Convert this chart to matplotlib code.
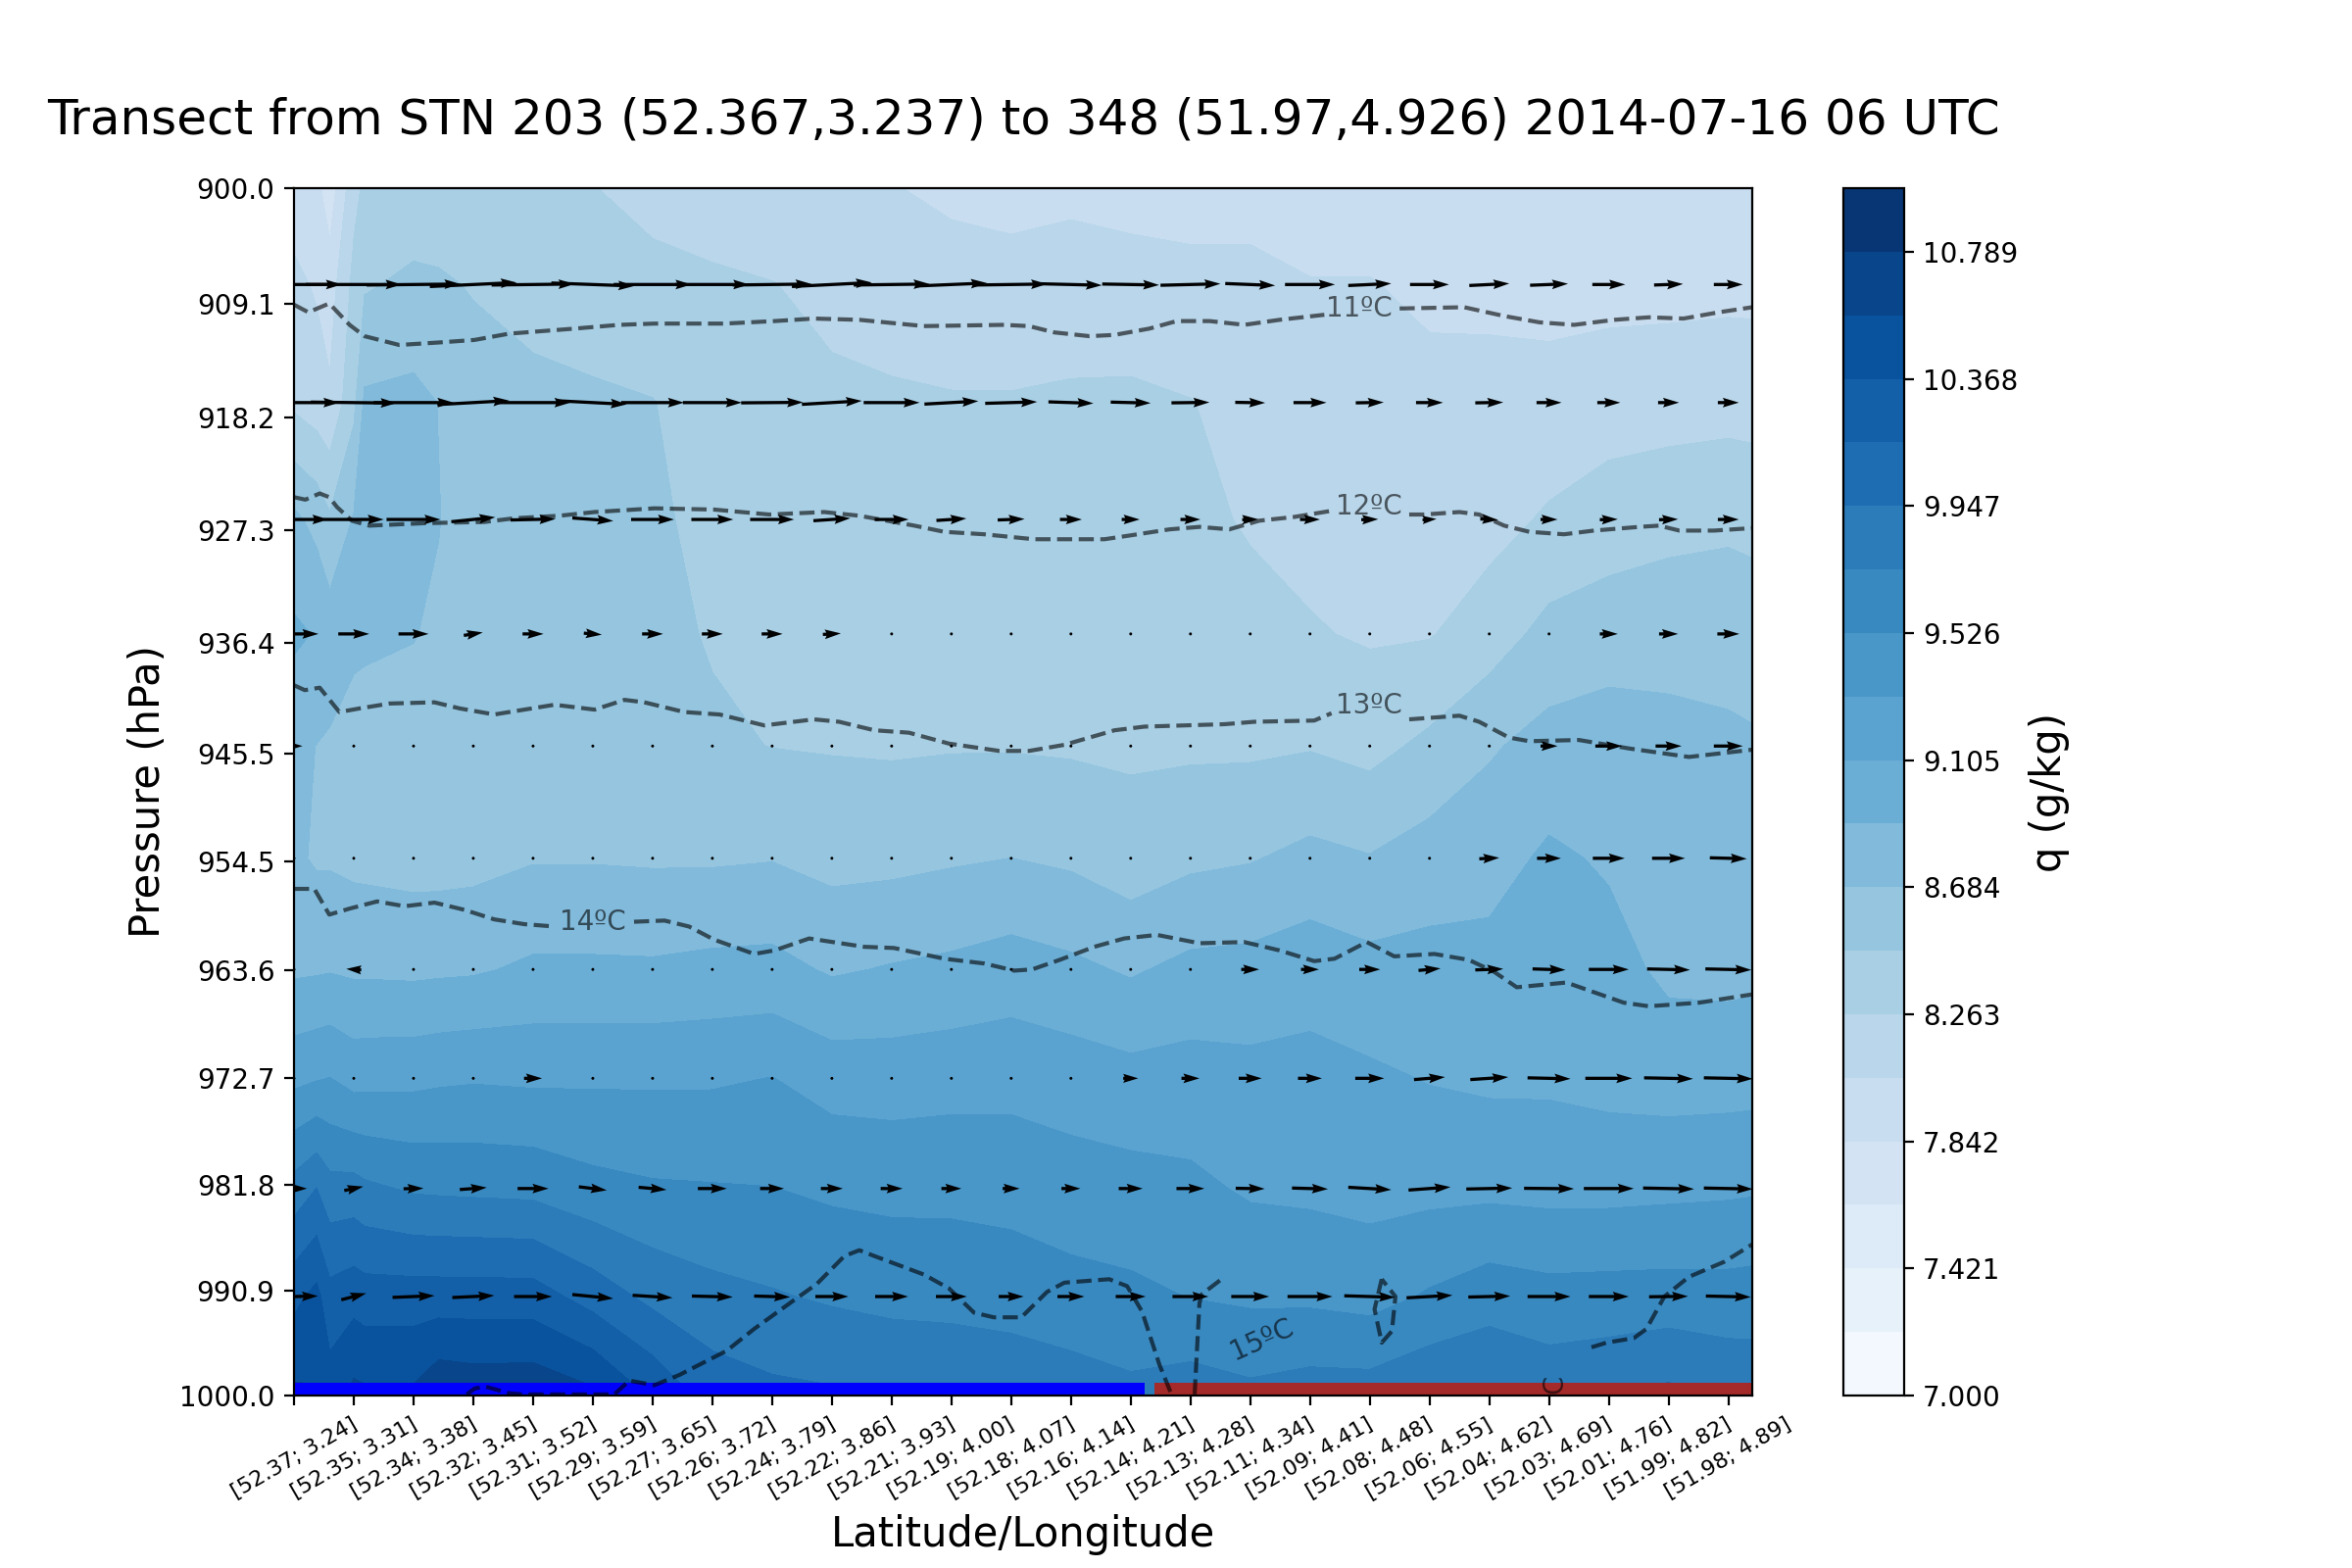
"""Transect of specific humidity, wind and temperature, STN 203 to 348."""

import numpy as np
import matplotlib
matplotlib.use("Agg")
import matplotlib.pyplot as plt

# -- humidity field, one list per pressure level ------------------------------
q_x = [0, 0.38, 0.6, 1, 1.18, 2, 2.42, 3, 4, 5, 6, 7, 8, 9, 10, 11, 12, 13, 14, 15, 16, 17,
       18, 19, 20, 21, 22, 23, 24, 24.4]
q_p = [900, 907.6, 917, 926.4, 935.7, 944.9, 954.2, 963.5, 972.7, 982.1, 991.4, 1000]

q_900 = [7.95, 7.90, 7.72, 8.20, 8.30, 8.33, 8.35, 8.37, 8.33, 8.27, 8.19, 8.14, 8.09, 8.07, 8.06, 8.02,
         8.00, 8.02, 8.01, 8.00, 8.00, 7.97, 7.97, 7.93, 7.92, 7.90, 7.90, 7.90, 7.92, 7.95]
q_908 = [8.10, 8.03, 7.95, 8.32, 8.45, 8.52, 8.50, 8.46, 8.41, 8.38, 8.33, 8.30, 8.27, 8.20, 8.17, 8.12,
         8.11, 8.12, 8.10, 8.09, 8.09, 8.06, 8.06, 8.02, 8.01, 7.99, 7.99, 7.99, 8.00, 8.00]
q_917 = [8.22, 8.15, 8.09, 8.42, 8.72, 8.74, 8.68, 8.56, 8.52, 8.50, 8.48, 8.38, 8.33, 8.31, 8.29, 8.28,
         8.28, 8.30, 8.31, 8.27, 8.19, 8.14, 8.12, 8.10, 8.11, 8.12, 8.16, 8.18, 8.19, 8.18]
q_926 = [8.73, 8.62, 8.50, 8.70, 8.76, 8.76, 8.69, 8.60, 8.57, 8.56, 8.50, 8.43, 8.39, 8.37, 8.35, 8.35,
         8.35, 8.36, 8.36, 8.32, 8.24, 8.20, 8.18, 8.16, 8.19, 8.29, 8.37, 8.40, 8.43, 8.42]
q_936 = [8.93, 8.88, 8.80, 8.72, 8.71, 8.69, 8.66, 8.60, 8.60, 8.60, 8.52, 8.46, 8.43, 8.43, 8.41, 8.41,
         8.41, 8.41, 8.40, 8.38, 8.34, 8.28, 8.24, 8.25, 8.37, 8.54, 8.58, 8.62, 8.61, 8.58]
q_945 = [8.74, 8.68, 8.66, 8.62, 8.62, 8.62, 8.62, 8.62, 8.62, 8.62, 8.62, 8.50, 8.47, 8.46, 8.45, 8.46,
         8.46, 8.45, 8.44, 8.44, 8.44, 8.46, 8.41, 8.52, 8.66, 8.76, 8.80, 8.74, 8.72, 8.71]
q_954 = [8.72, 8.66, 8.66, 8.635, 8.63, 8.61, 8.61, 8.62, 8.67, 8.67, 8.66, 8.66, 8.675, 8.62, 8.63, 8.66,
         8.685, 8.65, 8.57, 8.64, 8.67, 8.74, 8.695, 8.776, 8.815, 8.93, 8.87, 8.79, 8.76, 8.79]
q_964 = [8.86, 8.87, 8.88, 8.86, 8.86, 8.85, 8.86, 8.87, 8.93, 8.93, 8.925, 8.95, 8.96, 8.87, 8.91, 8.94,
         8.99, 8.94, 8.87, 8.95, 8.965, 9.02, 8.96, 8.97, 8.965, 8.99, 8.97, 8.85, 8.84, 8.85]
q_973 = [9.26, 9.30, 9.32, 9.24, 9.25, 9.26, 9.28, 9.295, 9.28, 9.286, 9.287, 9.29, 9.32, 9.23, 9.22, 9.24,
         9.25, 9.215, 9.175, 9.19, 9.166, 9.17, 9.14, 9.095, 9.07, 9.07, 9.04, 9.02, 9.025, 9.03]
q_982 = [9.82, 9.95, 9.815, 9.82, 9.78, 9.71, 9.70, 9.69, 9.675, 9.59, 9.55, 9.54, 9.53, 9.49, 9.47, 9.47,
         9.45, 9.41, 9.39, 9.36, 9.29, 9.275, 9.25, 9.258, 9.263, 9.25, 9.25, 9.265, 9.28, 9.29]
q_991 = [10.31, 10.43, 10.23, 10.29, 10.26, 10.26, 10.26, 10.26, 10.255, 10.07, 9.89, 9.80, 9.755, 9.71, 9.68, 9.67,
         9.65, 9.60, 9.57, 9.52, 9.49, 9.485, 9.45, 9.55, 9.645, 9.60, 9.61, 9.615, 9.61, 9.62]
q_1000 = [10.62, 10.60, 10.48, 10.64, 10.62, 10.62, 10.76, 10.73, 10.74, 10.63, 10.34, 10.07, 10.00, 9.975, 9.93, 9.915,
          9.885, 9.85, 9.79, 9.85, 9.79, 9.84, 9.84, 9.93, 9.95, 9.88, 9.92, 10.00, 9.91, 9.89]

# -- wind, one row per level, at the ticks ------------------------------------
wind_p = [907.6, 917, 926.4, 935.7, 944.9, 954.2, 963.5, 972.7, 982.1, 991.4]

u_908 = [9.6, 9.6, 9.4, 8.7, 8.3, 8.3, 7.8, 7.4, 7.9, 8.0, 7.6, 7.1, 7.2, 6.2, 5.7, 6.0, 5.0, 5.0, 4.3, 3.9, 4.0, 3.8, 3.3, 2.9, 2.9]
u_917 = [9.1, 8.6, 8.0, 7.2, 7.5, 6.8, 6.3, 5.9, 6.2, 6.0, 5.6, 5.4, 5.2, 4.5, 4.0, 3.8, 3.0, 3.3, 2.8, 2.7, 2.8, 2.5, 2.3, 2.1, 2.1]
u_926 = [6.9, 6.0, 5.4, 4.4, 4.5, 4.1, 4.3, 4.2, 4.4, 3.7, 3.4, 3.0, 2.7, 2.2, 1.8, 2.0, 1.6, 2.0, 1.7, 1.4, 1.8, 1.7, 1.8, 1.9, 2.1]
u_936 = [4.9, 3.1, 3.0, 1.9, 2.1, 1.8, 2.1, 2.1, 2.1, 1.8, 0, 0, 0, 0, 0, 0, 0, 0, 0, 0, 0, 0, 1.8, 1.9, 2.2]
u_945 = [1.7, 0, 0, 0, 0, 0, 0, 0, 0, 0, 0, 0, 0, 0, 0, 0, 0, 0, 0, 0, 0, 1.7, 2.7, 2.6, 2.9]
u_954 = [0, 0, 0, 0, 0, 0, 0, 0, 0, 0, 0, 0, 0, 0, 0, 0, 0, 0, 0, 0, 2.0, 2.4, 3.2, 3.3, 3.7]
u_964 = [0, -1.5, 0, 0, 0, 0, 0, 0, 0, 0, 0, 0, 0, 0, 0, 0, 1.8, 1.8, 2.1, 2.2, 2.8, 3.3, 4.0, 4.3, 4.6]
u_973 = [0, 0, 0, 0, 1.8, 0, 0, 0, 0, 0, 0, 0, 0, 0, 1.5, 1.8, 2.3, 2.4, 2.9, 3.1, 3.8, 4.3, 4.7, 4.9, 4.9]
u_982 = [2.6, 1.9, 2.0, 2.7, 3.1, 2.8, 2.8, 2.9, 2.4, 2.2, 2.2, 2.0, 1.7, 1.9, 2.4, 2.8, 2.9, 3.6, 4.3, 4.2, 4.6, 5.0, 5.0, 5.1, 4.9]
u_991 = [4.8, 2.5, 4.2, 4.2, 3.8, 4.1, 4.0, 4.1, 3.6, 3.3, 3.3, 3.1, 2.5, 2.7, 3.0, 3.6, 3.8, 4.5, 5.1, 4.6, 4.2, 4.3, 4.0, 3.9, 4.5]

v_908 = [0, 0, 0.1, 0.4, 0.1, -0.3, 0, 0, 0.1, 0.4, 0.1, 0.3, 0.1, -0.15, -0.1, 0.15, -0.2, 0, 0.2, 0, 0.2, 0.15, 0, 0.1, 0]
v_917 = [0, -0.1, 0, 0.4, 0, -0.35, 0, 0, 0.05, 0.35, 0, 0.3, 0.15, -0.15, -0.1, 0.05, -0.05, 0, 0.05, 0, 0.05, 0, 0, 0, 0]
v_926 = [0, 0, 0, 0.45, 0.1, -0.3, 0, 0, 0, 0.25, 0, 0.2, 0.1, 0, 0, 0, 0.05, 0, 0.05, 0.1, -0.1, 0, 0.05, 0.05, 0]
v_936 = [0, 0, 0, 0.3, 0, -0.15, 0, 0, 0, 0.1, 0, 0, 0, 0, 0, 0, 0, 0, 0, 0, 0, 0, 0, 0, 0]
v_945 = [0] * 25
v_954 = [0, 0, 0, 0, 0, 0, 0, 0, 0, 0, 0, 0, 0, 0, 0, 0, 0, 0, 0, 0, 0.1, 0, 0, 0, -0.1]
v_964 = [0, 0.1, 0, 0, 0, 0, 0, 0, 0, 0, 0, 0, 0, 0, 0, 0, 0, 0, 0, 0.2, 0.1, -0.1, 0, -0.1, -0.1]
v_973 = [0, 0, 0, 0, 0, 0, 0, 0, 0, 0, 0, 0, 0, 0, 0, 0, 0, 0, 0, 0.25, 0.25, -0.1, 0, -0.1, -0.1]
v_982 = [0, 0.4, 0.05, 0.2, 0, -0.35, -0.25, 0, 0, 0, 0, 0, 0, 0, 0, 0, -0.05, -0.1, -0.25, 0.3, 0.1, -0.05, 0, -0.1, -0.1]
v_991 = [0.1, 0.65, 0.17, 0.2, 0, -0.4, -0.25, -0.1, -0.1, 0, 0, 0, 0, 0, 0, 0, 0, 0, -0.15, 0.25, 0.1, 0, 0, 0.05, -0.1]

# -- isotherms, nan where the label breaks the line ---------------------------
t11_x = [0, 0.24, 0.59, 0.93, 1.18, 1.76, 2.43, 3.02, 3.6, 4.69, 5.44, 6.03, 7.2, 8.04, 8.7, 9.46, 10.54, 11.88, 12.3,
         12.72, 13.31, 13.73, 14.31, 14.77, 15.32, 15.9, 16.49, 17.24, 17.3, 18.4, 18.5, 19.58, 20.25, 20.84, 21.42,
         22.09, 22.67, 23.25, 23.84, 24.4]
t11_p = [909.2, 909.8, 909.1, 910.8, 911.7, 912.4, 912.2, 912.0, 911.5, 911.1, 910.8, 910.7, 910.7, 910.5, 910.3, 910.4,
         910.9, 910.8, 910.9, 911.4, 911.7, 911.6, 911.1, 910.5, 910.5, 910.8, 910.4, 910.0, np.nan, np.nan, 909.5, 909.4,
         910.1, 910.6, 910.8, 910.4, 910.2, 910.3, 909.8, 909.4]

t12_x = [0, 0.19, 0.43, 0.59, 0.72, 0.97, 1.26, 2.18, 3.19, 3.69, 4.44, 5.03, 6.03, 7.03, 7.95, 8.87, 9.46, 10.38, 10.88,
         11.55, 12.38, 13.56, 13.98, 14.65, 15.15, 15.65, 16.15, 16.73, 17.36, 17.4, 18.6, 18.66, 18.91, 19.5, 19.83,
         20.25, 20.67, 21.25, 21.75, 22.51, 22.84, 23.18, 23.76, 24.4]
t12_p = [924.6, 924.8, 924.3, 924.6, 925.4, 926.5, 926.9, 926.7, 926.6, 926.3, 926.1, 925.8, 925.5, 925.6, 926.0, 925.8,
         926.1, 926.9, 927.4, 927.6, 928.0, 928.0, 927.7, 927.2, 927.0, 927.2, 926.5, 926.2, 925.7, np.nan, np.nan, 926.0,
         926.0, 925.8, 926.0, 926.9, 927.4, 927.6, 927.3, 927.0, 926.9, 927.3, 927.3, 927.1]

t13_x = [0, 0.18, 0.43, 0.76, 1.1, 1.6, 2.35, 2.77, 3.35, 4.36, 5.03, 5.53, 5.86, 6.53, 7.12, 7.87, 8.7, 9.12, 9.71, 10.29,
         10.96, 11.8, 12.3, 12.89, 13.73, 14.23, 15.57, 16.07, 17.07, 17.36, 17.4, 18.6, 18.66, 19.5, 19.83, 20.33, 20.67,
         21.5, 22.34, 23.34, 24.4]
t13_p = [939.9, 940.3, 940.1, 942.1, 941.8, 941.4, 941.3, 941.8, 942.3, 941.5, 941.9, 941.1, 941.3, 942.1, 942.3, 943.2,
         942.7, 942.9, 943.6, 943.8, 944.7, 945.3, 945.3, 944.8, 943.6, 943.3, 943.1, 942.9, 942.8, 942.2, np.nan, np.nan,
         942.7, 942.4, 942.9, 944.2, 944.5, 944.4, 945.1, 945.8, 945.2]

t14_x = [0, 0.34, 0.59, 0.93, 1.39, 1.85, 2.35, 2.85, 3.35, 3.85, 4.36, 4.4, 5.6, 5.69, 6.2, 6.61, 7.03, 7.7, 8.04, 8.62,
         9.54, 10.04, 10.88, 11.55, 12.05, 12.35, 12.81, 13.39, 13.89, 14.44, 15.15, 15.9, 16.49, 17.07, 17.41, 17.95, 18.41,
         19.08, 19.66, 20.08, 20.46, 21.29, 22.25, 22.67, 23.51, 24.4]
t14_p = [956.75, 956.75, 958.9, 958.4, 957.8, 958.2, 957.9, 958.5, 959.3, 959.7, 959.9, np.nan, np.nan, 959.5, 959.4, 959.9,
         961.0, 962.2, 961.9, 960.9, 961.6, 961.7, 962.6, 963.0, 963.6, 963.5, 962.7, 961.6, 960.9, 960.6, 961.3, 961.2, 961.9,
         962.8, 962.6, 961.2, 962.4, 962.2, 962.7, 963.7, 965.0, 964.6, 966.3, 966.6, 966.3, 965.6]

t15a_x = [2.89, 3.02, 3.19, 3.6, 3.81, 5.36, 5.61, 6.03, 6.45, 7.24, 7.7, 8.37, 8.75, 9.21, 9.46, 9.71, 10.54, 10.96, 11.38,
          11.71, 12.17, 12.6, 12.89, 13.64, 13.94, 14.19, 14.48, 14.69]
t15a_p = [999.9, 999.4, 999.2, 999.8, 999.9, 999.9, 998.7, 999.1, 998.2, 996.1, 994.2, 991.7, 990.3, 987.9, 987.4, 987.9,
          989.5, 990.7, 992.8, 993.2, 993.2, 991.0, 990.2, 989.9, 990.5, 992.7, 997.3, 1000]
t15b_x = [15.07, 15.15, 15.19, 15.57]
t15b_p = [999.9, 992.0, 991.2, 989.7]
t15c_x = [18.2, 18.08, 18.2, 18.37, 18.43, 18.2]
t15c_p = [989.9, 992.5, 995.4, 994.4, 991.4, 989.9]
t15d_x = [21.71, 21.96, 22.42, 22.63, 22.93, 23.34, 23.93, 24.4]
t15d_p = [995.8, 995.4, 995.0, 994.2, 991.4, 989.7, 988.4, 986.9]

# -- labels -------------------------------------------------------------------
lats = [52.37, 52.35, 52.34, 52.32, 52.31, 52.29, 52.27, 52.26, 52.24, 52.22, 52.21, 52.19, 52.18,
        52.16, 52.14, 52.13, 52.11, 52.09, 52.08, 52.06, 52.04, 52.03, 52.01, 51.99, 51.98]
lons = [3.24, 3.31, 3.38, 3.45, 3.52, 3.59, 3.65, 3.72, 3.79, 3.86, 3.93, 4.00, 4.07,
        4.14, 4.21, 4.28, 4.34, 4.41, 4.48, 4.55, 4.62, 4.69, 4.76, 4.82, 4.89]
pressure_ticks = [900.0, 909.1, 918.2, 927.3, 936.4, 945.5, 954.5, 963.6, 972.7, 981.8, 990.9, 1000.0]

sea_end = 14.23
land_start = 14.40
x_end = 24.4

# -----------------------------------------------------------------------------
q = np.array([q_900, q_908, q_917, q_926, q_936, q_945, q_954, q_964, q_973, q_982, q_991, q_1000])
u = np.array([u_908, u_917, u_926, u_936, u_945, u_954, u_964, u_973, u_982, u_991])
v = np.array([v_908, v_917, v_926, v_936, v_945, v_954, v_964, v_973, v_982, v_991])
levels = np.linspace(7, 11, 20)

fig, ax = plt.subplots(figsize=(12, 8), dpi=200)
cf = ax.contourf(q_x, q_p, q, levels=levels, cmap="Blues")

ax.fill_between([0, sea_end], 998.87, 1000, color="blue", lw=0)
ax.fill_between([land_start, x_end], 998.87, 1000, color="brown", lw=0)

iso_style = dict(color="k", alpha=0.6, lw=1.5, ls="--")
for xs, ps in [(t11_x, t11_p), (t12_x, t12_p), (t13_x, t13_p), (t14_x, t14_p),
               (t15a_x, t15a_p), (t15b_x, t15b_p), (t15c_x, t15c_p), (t15d_x, t15d_p)]:
    ax.plot(xs, ps, **iso_style)

label_style = dict(color="k", alpha=0.6, fontsize=10, ha="center", va="center")
ax.text(17.82, 909.5, "11ºC", **label_style)
ax.text(17.99, 925.4, "12ºC", **label_style)
ax.text(17.99, 941.6, "13ºC", **label_style)
ax.text(5.0, 959.5, "14ºC", **label_style)
ax.text(16.19, 995.1, "15ºC", rotation=24, **label_style)
ax.text(21.1, 998.97, "C", rotation=90, **label_style)

xx, pp = np.meshgrid(np.arange(25), wind_p)
ax.quiver(xx, pp, u, v, pivot="mid", color="k", scale=146, scale_units="width", width=0.0022)

ax.set_yscale("log")
ax.set_ylim(1000, 900)
ax.set_xlim(0, x_end)
ax.set_yticks(pressure_ticks)
ax.set_yticklabels([f"{p:.1f}" for p in pressure_ticks])
ax.minorticks_off()
ax.set_xticks(range(25))
ax.set_xticklabels([f"[{a:.2f}; {b:.2f}]" for a, b in zip(lats, lons)], rotation=30, fontsize=8)
ax.set_xlabel("Latitude/Longitude", fontsize=15)
ax.set_ylabel("Pressure (hPa)", fontsize=15)
ax.set_title("Transect from STN 203 (52.367,3.237) to 348 (51.97,4.926) 2014-07-16 06 UTC",
             fontsize=18, pad=20)

cbar = fig.colorbar(cf, ax=ax)
cbar.set_ticks(levels[::2])
cbar.set_ticklabels([f"{t:.3f}" for t in levels[::2]])
cbar.set_label("q (g/kg)", fontsize=15)

fig.savefig("out.png", dpi=200)
